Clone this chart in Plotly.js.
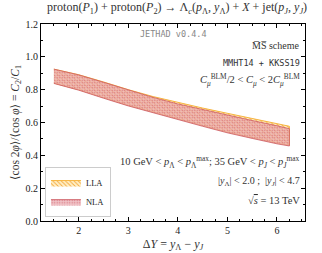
<!DOCTYPE html>
<html><head><meta charset="utf-8">
<script src="https://cdn.plot.ly/plotly-3.0.1.min.js"></script>
<style>html,body{margin:0;padding:0;background:#fff}#c{width:322px;height:253px}</style>
</head><body><div id="c"></div>
<script>
const dY = [1.5, 2.0, 2.5, 3.0, 3.5, 4.0, 4.5, 5.0, 5.5, 6.0, 6.25];
const nlaUp = [0.925, 0.89, 0.845, 0.797, 0.753, 0.713, 0.678, 0.645, 0.612, 0.580, 0.562];
const nlaLo = [0.838, 0.797, 0.748, 0.701, 0.658, 0.617, 0.577, 0.537, 0.503, 0.470, 0.457];
const llaUp = [0.925, 0.891, 0.847, 0.800, 0.758, 0.721, 0.688, 0.656, 0.625, 0.594, 0.577];
const llaLo = [0.840, 0.800, 0.752, 0.705, 0.662, 0.622, 0.582, 0.542, 0.508, 0.475, 0.462];
const xTicks = [2, 3, 4, 5, 6];
const yTicks = [0.0, 0.2, 0.4, 0.6, 0.8, 1.0, 1.2];

const band = (up, lo) => ({x: dY.concat(dY.slice().reverse()), y: up.concat(lo.slice().reverse())});
const L = band(llaUp, llaLo), N = band(nlaUp, nlaLo);
const serif = 'Liberation Serif, DejaVu Serif, serif';
const F = (s, c, fam) => ({family: fam || serif, size: s, color: c || '#222', weight: 'normal'});
const traces = [
  {x: L.x, y: L.y, name: 'LLA', type: 'scatter', mode: 'lines', fill: 'toself',
   line: {color: '#f7b541', width: 1},
   fillcolor: 'rgba(255,225,150,0.7)',
   fillpattern: {shape: '\\', fgcolor: '#f3a63a', bgcolor: 'rgba(255,236,185,0.8)', size: 3, solidity: 0.3}},
  {x: N.x, y: N.y, name: 'NLA', type: 'scatter', mode: 'lines', fill: 'toself',
   line: {color: '#cd5a62', width: 0.8},
   fillcolor: 'rgba(215,120,128,0.6)',
   fillpattern: {shape: '.', fgcolor: 'rgba(205,85,98,0.7)', bgcolor: 'rgba(234,170,175,0.7)', size: 2.5, solidity: 0.25}}
];
const ax = {showline: true, linecolor: '#000', linewidth: 1, mirror: 'ticks', ticks: 'inside', ticklen: 4,
  tickcolor: '#000', showgrid: false, zeroline: false, tickfont: F(10, '#222')};
const ann = (x, y, t, s, o) => Object.assign({xref: 'paper', yref: 'paper', x: x, y: y, text: t, showarrow: false,
  xanchor: 'right', yanchor: 'middle', font: F(s || 10, '#333')}, o || {});
const layout = {
  width: 322, height: 253, margin: {l: 41, r: 17, t: 24, b: 32},
  paper_bgcolor: '#fff', plot_bgcolor: '#fff', showlegend: true,
  title: {text: 'proton(<i>P</i><sub>1</sub>) + proton(<i>P</i><sub>2</sub>) → Λ<sub><i>c</i></sub>(<i>p</i><sub>Λ</sub>, <i>y</i><sub>Λ</sub>) + <i>X</i> + jet(<i>p<sub>J</sub></i>, <i>y<sub>J</sub></i>)',
    x: 0.55, xanchor: 'center', y: 0.972, yanchor: 'middle', font: F(12, '#333')},
  xaxis: Object.assign({}, ax, {range: [1.24, 6.565], tickvals: xTicks, ticktext: xTicks.map(String),
    minor: {ticks: 'inside', ticklen: 2, tickcolor: '#000', dtick: 0.25, tick0: 0},
    title: {text: 'Δ<i>Y</i> = <i>y</i><sub>Λ</sub> − <i>y<sub>J</sub></i>', font: F(12, '#333'), standoff: 4}}),
  yaxis: Object.assign({}, ax, {range: [0, 1.2], tickvals: yTicks, ticktext: yTicks.map(v => v.toFixed(1)),
    minor: {ticks: 'inside', ticklen: 2, tickcolor: '#000', dtick: 0.1, tick0: 0},
    title: {text: '⟨cos 2<i>φ</i>⟩/⟨cos <i>φ</i>⟩ = <i>C</i><sub>2</sub>/<i>C</i><sub>1</sub>', font: F(11.5, '#333'), standoff: 3}}),
  legend: {x: 0.015, y: 0.02, xanchor: 'left', yanchor: 'bottom', bgcolor: 'rgba(255,255,255,0.9)',
    bordercolor: '#ccc', borderwidth: 1, font: F(8.5, '#222'), itemwidth: 30, tracegroupgap: 0},
  annotations: [
    ann(0.5, 0.95, 'JETHAD v0.4.4', 8.5, {xanchor: 'center', font: F(8.5, '#888', 'DejaVu Sans Mono, monospace')}),
    ann(0.99, 0.89, 'M̅S̅ scheme', 10),
    ann(0.99, 0.80, 'MMHT14 + KKSS19', 8.5, {font: F(8.5, '#333', 'DejaVu Sans Mono, monospace')}),
    ann(0.99, 0.715, '<i>C<sub>μ</sub></i><sup>BLM</sup>/2 < <i>C<sub>μ</sub></i> < 2<i>C<sub>μ</sub></i><sup>BLM</sup>', 10.5),
    ann(0.99, 0.30, '10 GeV < <i>p</i><sub>Λ</sub> < <i>p</i><sub>Λ</sub><sup>max</sup>; 35 GeV < <i>p<sub>J</sub></i> < <i>p<sub>J</sub></i><sup>max</sup>', 10.5),
    ann(0.99, 0.20, '|<i>y</i><sub>Λ</sub>| < 2.0 ;  |<i>y<sub>J</sub></i>| < 4.7', 10),
    ann(0.99, 0.105, '√<span style="text-decoration:overline"><i>s</i></span> = 13 TeV', 10.5)
  ]
};
Plotly.newPlot('c', traces, layout, {staticPlot: true, displayModeBar: false});
</script></body></html>
